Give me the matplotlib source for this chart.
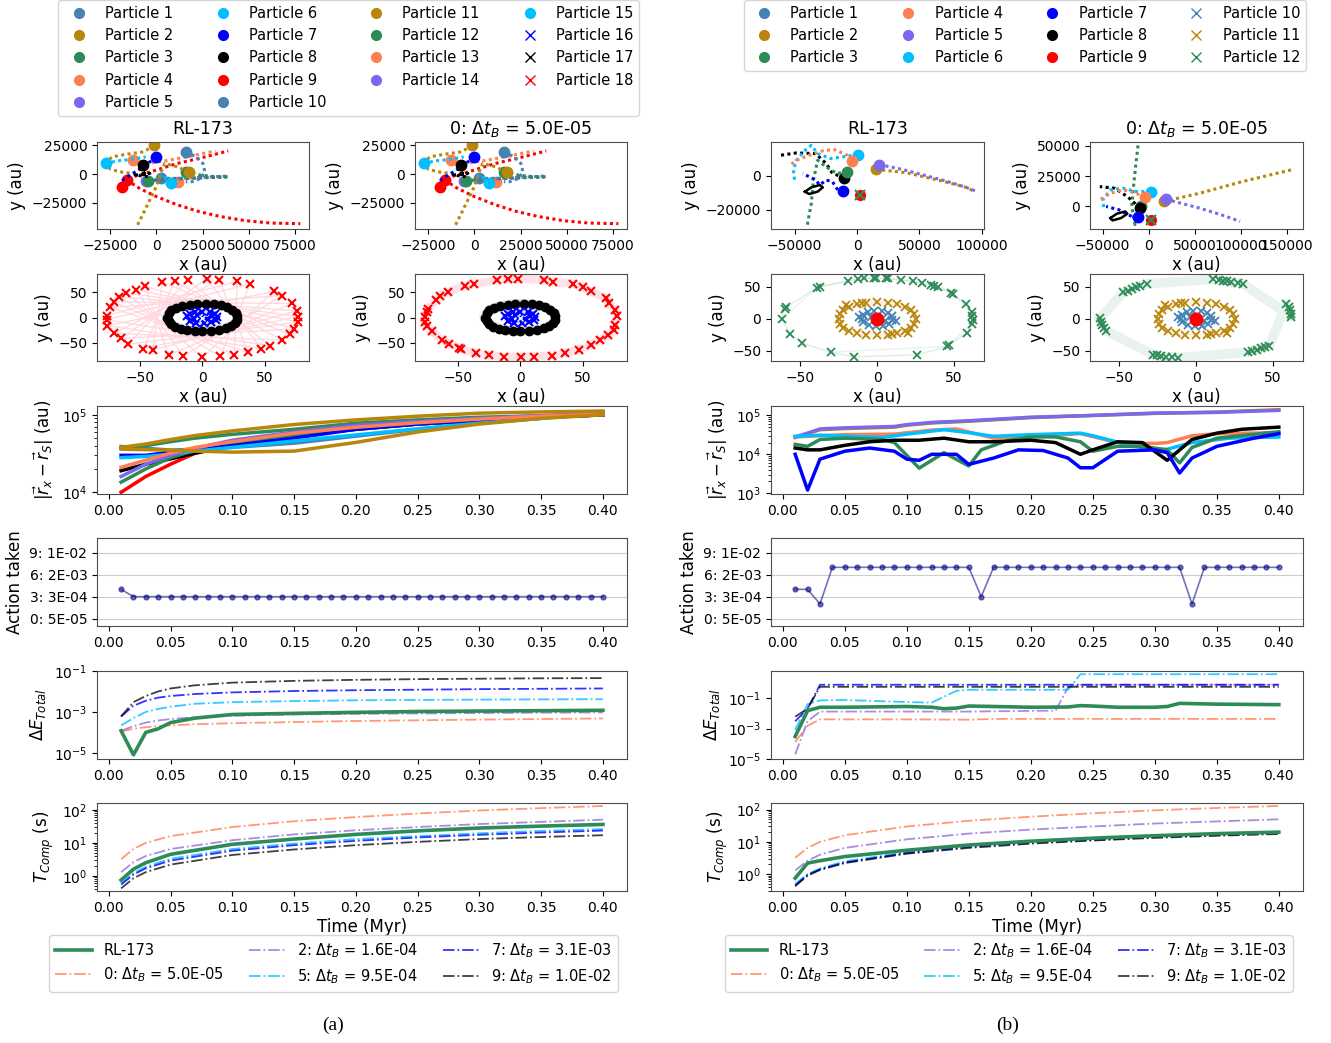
import matplotlib.pyplot as plt
from matplotlib.lines import Line2D
from matplotlib.ticker import NullFormatter

W, H = 1331, 1043

# ---------------- particle colours (legend) ----------------
colors_a = {1: 'steelblue', 2: 'darkgoldenrod', 3: 'seagreen', 4: 'coral', 5: 'mediumslateblue',
            6: 'deepskyblue', 7: 'blue', 8: 'black', 9: 'red', 10: 'steelblue',
            11: 'darkgoldenrod', 12: 'seagreen', 13: 'coral', 14: 'mediumslateblue',
            15: 'deepskyblue', 16: 'blue', 17: 'black', 18: 'red'}
markers_a = {k: ('x' if k >= 16 else 'o') for k in colors_a}
colors_b = {1: 'steelblue', 2: 'darkgoldenrod', 3: 'seagreen', 4: 'coral', 5: 'mediumslateblue',
            6: 'deepskyblue', 7: 'blue', 8: 'black', 9: 'red', 10: 'steelblue',
            11: 'darkgoldenrod', 12: 'seagreen'}
markers_b = {k: ('x' if k >= 10 else 'o') for k in colors_b}

# ---------------- (a) trajectories, wide view ----------------
traj_a = {
    18: ([-16000, -9150, 0, 11400, 22900, 34300, 48000, 61700, 77800],
         [-5200, -12400, -19650, -26900, -32700, -37000, -40700, -42800, -43350]),
    9: ([-18750, -18300, -16000, -9150, 0, 11400, 22900, 38900],
        [-11560, -6650, -3750, -870, 3470, 9250, 13600, 20200]),
    13: ([-12600, -4600, 6900, 18300, 32000], [12100, 9250, 12100, 15600, 20200]),
    4: ([11900, 8000, 4000], [-6650, -5000, -3000]),
    1: ([16000, 21700, 25200, 26300, 24000, 19400, 16000],
        [19400, 15000, 9250, 2000, -3750, -6650, -6650]),
    10: ([2300, 11400, 22900, 38900], [-3750, -3750, -3200, -2300]),
    5: ([-5700, 6900, 20600, 38900], [-5800, -4600, -3200, -1700]),
    3: ([16000, 24000, 32000, 38000], [2000, -1000, -2300, -2600]),
    12: ([-4600, 11400, 27400, 37700], [-5800, -4300, -3200, -2600]),
    2: ([-1100, -6900, -16000, -24000, -27000, -24700, -17100, -9150],
        [25100, 19400, 17300, 15000, 9800, 4050, 1150, 600]),
    11: ([17600, 11400, 4600, 2300, 0, -3430, -6900, -10300],
         [1700, 6350, 9250, 600, -11000, -22500, -34100, -45100]),
    7: ([0, -3430, -6900, -12600, -17100, -19400], [15000, 10700, 6350, 600, -3750, -8100]),
    6: ([-27400, -20600, -13700, -5700], [9250, 11600, 12700, 15000]),
    15: ([8000, 5700, 2300], [-8100, -3750, -900]),
    8: ([-6900, -9150, -5700, -8000, -3430, -11400, -4600],
        [7800, 4900, 2000, -870, 600, -870, -2300]),
}

# ---------------- (a) trajectories, zoom on the centre ----------------
red_x_rl = [-76.4, -76.4, -75.8, -73.4, -70.7, -66.3, -60.6, -53.2, -45.5, -32.0, -21.9, -11.8, 3.4,
            13.5, 27.9, 38.0, 57.2, 63.3, 71.7, 75.1, 76.4, 76.4, 73.1, 69.7, 63.3, 53.9, 47.1, 36.4,
            25.3, 14.1, 0.0, -15.2, -26.9, -39.7, -47.1, -58.9, -65.0, -70.7]
red_y_rl = [3.9, -4.5, -16.1, 20.0, 31.0, 40.6, 48.4, 54.8, 61.3, 69.7, 71.6, 74.2, 76.1, 74.2, 71.6,
            66.5, 51.6, 43.2, 27.7, 12.9, 1.9, -9.0, -22.6, -33.5, -44.5, -56.1, -61.3, -69.0, -73.5,
            -76.8, -78.7, -76.1, -74.2, -64.5, -61.3, -52.9, -41.3, -31.6]
rl_order = [0, 14, 28, 4, 18, 32, 8, 22, 36, 12, 26, 2, 16, 30, 6, 20, 34, 10, 24, 37, 13, 27, 3,
            17, 31, 7, 21, 35, 11, 25, 1, 15, 29, 5, 19, 33, 9, 23]
red_x_dt = [-76.4, -76.4, -74.7, -73.4, -67.3, -64.0, -57.9, -43.8, -37.0, -18.5, -10.1, -1.7, 18.5,
            25.9, 42.1, 49.8, 56.2, 68.0, 70.7, 75.8, 76.8, 75.1, 74.7, 69.7, 63.3, 56.2, 46.5, 35.4,
            25.3, 10.8, 0.7, -12.8, -25.3, -35.4, -47.1, -48.8, -56.6, -62.3, -70.7, -74.1]
red_y_dt = [-9.0, 1.9, 11.6, 16.8, 34.2, 41.9, 50.3, 63.2, 66.5, 74.2, 76.1, 76.1, 74.2, 70.3, 66.5,
            60.0, 51.6, 38.7, 27.7, 14.8, 3.2, -14.2, -23.9, -34.8, -44.5, -54.8, -63.9, -70.3,
            -75.5, -77.4, -78.7, -78.7, -74.2, -71.0, -62.6, -60.0, -51.6, -44.5, -27.1, -17.4]
black_x = [-28, -27, -25, -21, -16, -10, -4, 3, 9, 15, 20, 24, 27, 28, 28, 26, 23, 19, 13, 7, 0,
           -6, -12, -17, -22, -25, -27]
black_y = [0, 8, 14, 19, 23, 25, 27, 27, 26, 24, 20, 15, 9, 2, -5, -11, -16, -21, -24, -26, -27,
           -27, -25, -22, -18, -12, -6]
blue_x = [-12, -10, -6, 0, 6, 10, 12, 11, 7, 1, -5, -10, -4, 4, 0, -7, 8]
blue_y = [2, 7, 10, 11, 10, 7, 1, -5, -9, -11, -10, -6, 4, -3, 0, -2, 3]

# ---------------- (b) trajectories, wide view ----------------
traj_b_rl = {
    8: ([-10200, -19700, -24800, -33300, -48600, -61500], [-1160, 1360, 7200, 13000, 13400, 12000]),
    6: ([680, -11200, -21400, -31600, -36700, -41800, -48600, -51000, -50000],
        [12400, 11100, 10100, 13000, 17800, 14900, 9100, 3300, -3500]),
    4: ([-4400, -7800, -18000, -26500, -38400, -48600, -53700],
        [8700, 12000, 15300, 14900, 12000, 9100, 6200]),
    3: ([-7800, -16300, -24800, -31600, -33300, -35000, -36700, -40100],
        [2300, 1360, 5200, 9100, 3300, -2500, -16100, -29700]),
    7: ([-11200, -14600, -19700, -24800, -29900, -33300, -38400, -43500],
        [-8700, -9300, -3500, -2500, -5400, -2500, -600, 1360]),
    2: ([15000, 26200, 39800, 53400, 70400, 87400, 94900], [3700, 2900, 1750, -600, -3500, -6800, -9500]),
    5: ([17700, 36400, 53400, 70400, 87400, 94900], [6600, 3700, 400, -2900, -6800, -8900]),
}
loop_b_rl = ([-41800, -36700, -29900, -27500, -31600, -38400, -41800],
             [-9300, -6800, -5400, -6800, -9300, -10700, -9300])
core_b_rl = (2000, -11000)

traj_b_dt = {
    3: ([-8300, -13800, -14800, -18400, -16100, -13800, -11500], [0, -8200, -15000, 0, 19100, 35500, 50500]),
    2: ([16100, 55300, 101400, 156700], [4100, 10900, 20500, 30600]),
    5: ([18400, 55300, 78400, 99100], [6000, -1400, -6800, -12300]),
    8: ([-9200, -23100, -36900, -53000], [-1400, 8200, 15000, 16400]),
    6: ([2300, -13800, -27700, -41500, -49800, -48400], [12300, 12300, 15000, 13700, 5500, -2700]),
    4: ([-3700, -13800, -27700, -41500, -53000], [7600, 10900, 13700, 10900, 5500]),
    7: ([-11500, -18400, -32300, -46100], [-8700, -8200, -2700, 0]),
}
loop_b_dt = ([-41500, -34600, -25400, -23100, -30000, -39200, -41500],
             [-9600, -6000, -4100, -6000, -9600, -11500, -9600])
core_b_dt = (2300, -10900)

# ---------------- (b) trajectories, zoom ----------------
green_x_rl = [-62.0, -60.0, -59.2, -39.1, -37.2, -18.7, -12.4, -8.3, -1.9, -0.6, 5.5, 6.9, 15.7, 23.4,
              28.9, 35.0, 37.2, 39.9, 48.2, 49.6, 57.9, 62.0, 62.0, 62.3, 61.4, 58.7, 46.8, 45.5, 26.2,
              -15.2, -30.3, -48.8, -56.5]
green_y_rl = [0.0, 15.4, 17.9, 48.7, 50.3, 59.5, 62.1, 63.1, 63.6, 64.1, 63.1, 63.1, 60.5, 59.0, 55.4,
              52.8, 51.3, 50.3, 40.0, 38.5, 23.1, 10.3, 4.1, -2.6, -8.7, -21.5, -41.0, -43.1, -56.4,
              -59.5, -52.3, -37.9, -24.1]
green_x_dt = [-62.5, -61.7, -61.2, -59.8, -58.4, -28.1, -25.3, -22.6, -19.3, -15.7, -12.1, 33.9, 36.6,
              39.4, 42.1, 44.9, 47.7, 58.7, 60.1, 60.9, 61.4, 62.0, 30.3, 27.0, 22.9, 20.1, 17.4, 14.6,
              11.3, -32.2, -36.4, -39.1, -41.9, -44.6, -47.4]
green_y_dt = [0.5, -4.6, -9.7, -14.9, -19.0, -55.9, -57.4, -58.5, -59.5, -60.0, -61.0, -52.3, -50.3,
              -48.2, -46.2, -44.1, -42.1, 23.6, 18.5, 13.3, 8.2, 3.1, 55.0, 56.0, 57.0, 58.5, 59.5, 61.0,
              62.0, 54.4, 51.3, 49.2, 46.7, 44.1, 41.5]
gold_x = [-25, -24, -22, -18, -13, -7, 0, 7, 13, 18, 22, 24, 25, 24, 22, 18, 13, 7, 0, -7, -13, -18,
          -22, -24, -20, 20, -10, 10]
gold_y = [0, 8, 14, 19, 23, 25, 26, 25, 23, 19, 14, 8, 0, -8, -14, -19, -23, -25, -26, -25, -23,
          -19, -14, -8, 22, -22, 24, -24]
sblue_x = [-10, -9, -6, -2, 3, 7, 10, 10, 8, 4, -1, -5, -9, -12, 12, -4, 5]
sblue_y = [0, 6, 10, 12, 12, 9, 4, -2, -8, -11, -12, -10, -5, 3, -4, 3, -3]

# ---------------- time series ----------------
t_act = [0.01, 0.02, 0.03, 0.04, 0.05, 0.06, 0.07, 0.08, 0.09, 0.10, 0.11, 0.12, 0.13, 0.14,
         0.15, 0.16, 0.17, 0.18, 0.19, 0.20, 0.21, 0.22, 0.23, 0.24, 0.25, 0.26, 0.27, 0.28,
         0.29, 0.30, 0.31, 0.32, 0.33, 0.34, 0.35, 0.36, 0.37, 0.38, 0.39, 0.40]
action_a = [4, 3, 3, 3, 3, 3, 3, 3, 3, 3, 3, 3, 3, 3, 3, 3, 3, 3, 3, 3,
            3, 3, 3, 3, 3, 3, 3, 3, 3, 3, 3, 3, 3, 3, 3, 3, 3, 3, 3, 3]
action_b = [4, 4, 2, 7, 7, 7, 7, 7, 7, 7, 7, 7, 7, 7, 7, 3, 7, 7, 7, 7,
            7, 7, 7, 7, 7, 7, 7, 7, 7, 7, 7, 7, 2, 7, 7, 7, 7, 7, 7, 7]
action_ticks = [0, 3, 6, 9]
action_labels = ['0: 5E-05', '3: 3E-04', '6: 2E-03', '9: 1E-02']

t_r = [0.01, 0.03, 0.05, 0.07, 0.10, 0.15, 0.20, 0.25, 0.30, 0.35, 0.40]
dist_a = {
    1: [3.9e4, 3.7e4, 3.5e4, 3.6e4, 3.8e4, 4.3e4, 5.3e4, 6.5e4, 7.8e4, 9.0e4, 1.1e5],
    9: [1.0e4, 1.6e4, 2.3e4, 3.2e4, 4.1e4, 5.5e4, 6.7e4, 7.7e4, 8.6e4, 9.3e4, 1.0e5],
    8: [1.9e4, 2.3e4, 2.7e4, 3.2e4, 4.0e4, 5.3e4, 6.5e4, 7.6e4, 8.4e4, 9.2e4, 1.0e5],
    12: [1.35e4, 2.0e4, 2.8e4, 3.5e4, 4.3e4, 5.4e4, 6.5e4, 7.6e4, 8.5e4, 9.3e4, 1.0e5],
    7: [3.0e4, 3.0e4, 3.3e4, 3.6e4, 4.0e4, 5.0e4, 6.5e4, 7.6e4, 8.5e4, 9.3e4, 1.0e5],
    6: [2.8e4, 2.9e4, 3.1e4, 3.4e4, 3.8e4, 4.6e4, 5.5e4, 6.6e4, 7.8e4, 9.0e4, 1.05e5],
    3: [3.7e4, 4.0e4, 4.5e4, 5.0e4, 5.6e4, 6.5e4, 7.8e4, 8.6e4, 9.3e4, 9.7e4, 1.0e5],
    5: [1.6e4, 2.3e4, 3.0e4, 3.7e4, 4.7e4, 6.0e4, 7.3e4, 8.2e4, 9.0e4, 9.8e4, 1.05e5],
    4: [2.1e4, 2.6e4, 3.2e4, 3.8e4, 4.5e4, 5.8e4, 6.9e4, 7.9e4, 8.8e4, 9.6e4, 1.02e5],
    2: [3.8e4, 4.2e4, 4.8e4, 5.4e4, 6.2e4, 7.5e4, 8.6e4, 9.6e4, 1.05e5, 1.09e5, 1.12e5],
    11: [3.6e4, 3.55e4, 3.5e4, 3.4e4, 3.3e4, 3.4e4, 4.4e4, 6.0e4, 7.6e4, 9.0e4, 1.0e5],
}
dist_b = {
    2: ([0.01, 0.02, 0.03, 0.05, 0.09, 0.10, 0.12, 0.15, 0.20, 0.25, 0.30, 0.35, 0.40],
        [2.7e4, 3.4e4, 4.3e4, 4.6e4, 5.0e4, 5.6e4, 6.4e4, 7.1e4, 8.8e4, 1.0e5, 1.13e5, 1.22e5, 1.4e5]),
    5: ([0.01, 0.02, 0.03, 0.05, 0.09, 0.10, 0.12, 0.15, 0.20, 0.25, 0.30, 0.35, 0.40],
        [2.8e4, 3.5e4, 4.5e4, 4.8e4, 5.2e4, 5.8e4, 6.6e4, 7.3e4, 9.0e4, 1.0e5, 1.15e5, 1.2e5, 1.35e5]),
    4: ([0.01, 0.05, 0.09, 0.12, 0.14, 0.17, 0.20, 0.24, 0.27, 0.30, 0.31, 0.33, 0.35, 0.40],
        [2.8e4, 3.2e4, 3.3e4, 4.2e4, 4.5e4, 2.6e4, 2.8e4, 3.4e4, 2.0e4, 1.9e4, 2.0e4, 3.0e4, 3.4e4, 3.6e4]),
    6: ([0.01, 0.03, 0.08, 0.10, 0.13, 0.15, 0.17, 0.20, 0.24, 0.25, 0.28, 0.30, 0.31, 0.33, 0.36, 0.40],
        [2.9e4, 3.1e4, 2.7e4, 3.3e4, 4.3e4, 3.6e4, 2.9e4, 3.2e4, 3.5e4, 3.0e4, 1.7e4, 1.3e4, 1.35e4,
         2.0e4, 2.6e4, 2.8e4]),
    3: ([0.01, 0.02, 0.03, 0.05, 0.08, 0.09, 0.11, 0.13, 0.15, 0.16, 0.18, 0.20, 0.22, 0.24, 0.25,
         0.27, 0.29, 0.31, 0.32, 0.33, 0.35, 0.40],
        [1.8e4, 1.6e4, 2.4e4, 2.6e4, 2.4e4, 2.0e4, 4.4e3, 1.1e4, 5.0e3, 1.3e4, 2.2e4, 2.8e4, 2.8e4,
         2.1e4, 1.2e4, 1.6e4, 1.6e4, 1.3e4, 6.0e3, 1.5e4, 2.6e4, 3.8e4]),
    8: ([0.01, 0.02, 0.03, 0.05, 0.07, 0.09, 0.11, 0.13, 0.15, 0.17, 0.20, 0.22, 0.24, 0.25, 0.27,
         0.29, 0.31, 0.33, 0.35, 0.37, 0.40],
        [1.45e4, 1.3e4, 1.3e4, 1.7e4, 2.1e4, 2.3e4, 2.3e4, 2.6e4, 2.1e4, 2.1e4, 2.3e4, 2.0e4, 1.0e4,
         1.3e4, 2.1e4, 2.0e4, 7.0e3, 2.4e4, 3.5e4, 4.4e4, 5.0e4]),
    7: ([0.01, 0.02, 0.03, 0.05, 0.07, 0.09, 0.10, 0.11, 0.12, 0.14, 0.15, 0.17, 0.19, 0.21, 0.23,
         0.24, 0.25, 0.27, 0.30, 0.31, 0.32, 0.33, 0.35, 0.38, 0.40],
        [1.0e4, 1.2e3, 7.5e3, 1.2e4, 1.45e4, 1.2e4, 7.5e3, 7.0e3, 1.0e4, 1.0e4, 5.5e3, 8.0e3, 1.3e4,
         1.25e4, 8.0e3, 4.5e3, 4.5e3, 1.2e4, 1.3e4, 1.1e4, 3.3e3, 8.0e3, 1.6e4, 2.6e4, 3.4e4]),
}

runs = ['0', '2', '5', '7', '9', 'RL']
run_labels = {'RL': 'RL-173', '0': r'0: $\Delta t_B$ = 5.0E-05', '2': r'2: $\Delta t_B$ = 1.6E-04',
              '5': r'5: $\Delta t_B$ = 9.5E-04', '7': r'7: $\Delta t_B$ = 3.1E-03',
              '9': r'9: $\Delta t_B$ = 1.0E-02'}

t_e = [0.01, 0.02, 0.03, 0.04, 0.05, 0.07, 0.10, 0.15, 0.20, 0.25, 0.30, 0.35, 0.40]
energy_a = {
    'RL': (t_e, [1.2e-4, 8e-6, 1.0e-4, 1.5e-4, 3.0e-4, 5.0e-4, 7.5e-4, 8.5e-4, 9.5e-4, 1.05e-3, 1.1e-3, 1.15e-3, 1.2e-3]),
    '0': (t_e, [1.1e-4, 1.5e-4, 1.8e-4, 2.0e-4, 2.2e-4, 2.5e-4, 2.8e-4, 3.2e-4, 3.6e-4, 3.9e-4, 4.2e-4, 4.5e-4, 4.8e-4]),
    '2': (t_e, [1.2e-4, 2.0e-4, 3.0e-4, 3.8e-4, 4.5e-4, 5.5e-4, 6.5e-4, 7.5e-4, 8.0e-4, 8.4e-4, 8.8e-4, 9.2e-4, 9.5e-4]),
    '5': (t_e, [2.2e-4, 5.0e-4, 1.0e-3, 1.4e-3, 1.8e-3, 2.5e-3, 3.0e-3, 3.4e-3, 3.7e-3, 3.85e-3, 4.0e-3, 4.1e-3, 4.2e-3]),
    '7': (t_e, [6e-4, 2e-3, 3.5e-3, 5e-3, 6e-3, 7.5e-3, 9e-3, 1.05e-2, 1.15e-2, 1.22e-2, 1.3e-2, 1.35e-2, 1.4e-2]),
    '9': (t_e, [6e-4, 3e-3, 6e-3, 1e-2, 1.4e-2, 2e-2, 2.7e-2, 3.3e-2, 3.7e-2, 4.0e-2, 4.2e-2, 4.4e-2, 4.5e-2]),
}
energy_b = {
    'RL': ([0.01, 0.02, 0.03, 0.05, 0.10, 0.12, 0.13, 0.14, 0.15, 0.17, 0.20, 0.23, 0.24, 0.25, 0.27,
            0.30, 0.31, 0.32, 0.35, 0.40],
           [3e-4, 1.5e-2, 2.5e-2, 2.5e-2, 2.8e-2, 2.5e-2, 2.0e-2, 2.2e-2, 3.0e-2, 2.8e-2, 2.5e-2, 2.6e-2,
            3.2e-2, 3.0e-2, 2.5e-2, 2.5e-2, 2.8e-2, 4.5e-2, 4.0e-2, 3.7e-2]),
    '0': ([0.01, 0.02, 0.03, 0.05, 0.10, 0.15, 0.17, 0.40],
          [1.3e-4, 1.5e-3, 4e-3, 4e-3, 4e-3, 3.8e-3, 4.3e-3, 4.3e-3]),
    '2': ([0.01, 0.02, 0.03, 0.10, 0.15, 0.22, 0.23, 0.24, 0.40],
          [2e-5, 3e-3, 1.3e-2, 1.3e-2, 1.3e-2, 1.5e-2, 0.5, 0.75, 0.75]),
    '5': ([0.01, 0.02, 0.03, 0.05, 0.10, 0.12, 0.14, 0.15, 0.23, 0.24, 0.40],
          [8e-4, 4e-2, 7e-2, 7.5e-2, 5.5e-2, 5e-2, 0.3, 0.35, 0.35, 3.7, 3.7]),
    '7': ([0.01, 0.02, 0.03, 0.40], [3e-3, 2e-2, 0.75, 0.75]),
    '9': ([0.01, 0.02, 0.03, 0.40], [6e-3, 2e-2, 0.55, 0.55]),
}

t_c = [0.01, 0.02, 0.03, 0.05, 0.10, 0.15, 0.20, 0.25, 0.30, 0.35, 0.40]
comp_a = {
    '0': [3.2, 6.5, 10, 16, 30, 45, 60, 77, 95, 112, 130],
    '2': [1.3, 2.6, 4, 6.5, 12, 18, 24, 30, 37, 43, 50],
    '5': [0.6, 1.2, 1.9, 3.3, 6.5, 9.5, 13, 16, 19.5, 23, 26],
    '7': [0.55, 1.1, 1.7, 2.9, 5.8, 8.5, 11.5, 14.5, 17.5, 20.5, 23.5],
    '9': [0.42, 0.85, 1.3, 2.2, 4.3, 6.3, 8.5, 10.7, 13, 15, 17],
    'RL': [0.75, 1.6, 2.5, 4.5, 9, 13, 18, 23, 28, 32, 36],
}
comp_b = {
    '0': [3.2, 6.5, 10, 16, 30, 45, 60, 77, 95, 112, 130],
    '2': [1.3, 2.6, 4, 6.5, 12, 18, 24, 30, 37, 43, 50],
    '5': [0.5, 1.0, 1.5, 2.5, 4.8, 7.5, 10, 12.5, 15, 17.5, 20],
    '7': [0.45, 0.95, 1.4, 2.3, 4.5, 7, 9.3, 11.5, 14, 16, 18.5],
    '9': [0.42, 0.9, 1.35, 2.2, 4.3, 6.5, 8.8, 11, 13.3, 15.5, 17.5],
    'RL': [0.75, 2.2, 2.6, 3.5, 5.5, 8, 10.5, 13, 15.5, 18, 20],
}

run_style = {
    'RL': dict(color='seagreen', lw=2.6, ls='-'),
    '0': dict(color='coral', lw=1.3, ls='-.', alpha=0.8),
    '2': dict(color='mediumpurple', lw=1.3, ls='-.', alpha=0.8),
    '5': dict(color='deepskyblue', lw=1.3, ls='-.', alpha=0.8),
    '7': dict(color='blue', lw=1.3, ls='-.', alpha=0.8),
    '9': dict(color='black', lw=1.3, ls='-.', alpha=0.75),
}

# ---------------- figure ----------------
plt.rcParams['font.family'] = ['DejaVu Sans']
plt.rcParams['axes.edgecolor'] = '0.3'
plt.rcParams['xtick.labelsize'] = 10
plt.rcParams['ytick.labelsize'] = 10
plt.rcParams['axes.labelsize'] = 12

fig = plt.figure(figsize=(W / 100, H / 100), dpi=100)


def rect(x0, y0, w, h=88):
    return [x0 / W, 1 - (y0 + h) / H, w / W, h / H]


rows = [142, 274, 406, 538, 671, 803]
dots = (0, (1, 1.1))


def draw_traj(ax, trajs, colors):
    for k, (xs, ys) in trajs.items():
        ax.plot(xs, ys, color=colors[k], ls=dots, lw=2.2)
        ax.plot(xs[0], ys[0], 'o', color=colors[k], ms=7.5)
    ax.set_xlabel('x (au)', labelpad=2)
    ax.set_ylabel('y (au)')


def log_clean(ax, ticks, lim):
    ax.set_yscale('log')
    ax.set_ylim(*lim)
    ax.set_yticks(ticks)
    ax.yaxis.set_minor_formatter(NullFormatter())


# ===== panel (a) =====
for i, x0 in enumerate([97, 415]):
    ax = fig.add_axes(rect(x0, rows[0], 212, 87))
    draw_traj(ax, traj_a, colors_a)
    ax.set_xlim(-32000, 82500)
    ax.set_ylim(-48000, 28000)
    ax.set_xticks([-25000, 0, 25000, 50000, 75000])
    ax.set_yticks([-25000, 0, 25000])
    ax.set_title('RL-173' if i == 0 else run_labels['0'], fontsize=12.5)

    ax = fig.add_axes(rect(x0, rows[1], 212, 87))
    ax.plot(black_x + black_x[:1], black_y + black_y[:1], color='0.6', lw=7, alpha=0.3)
    ax.plot(blue_x[:12] + blue_x[:1], blue_y[:12] + blue_y[:1], color='lightsteelblue', lw=4, alpha=0.5)
    if i == 0:
        ax.plot([red_x_rl[j] for j in rl_order], [red_y_rl[j] for j in rl_order],
                color='pink', lw=1, alpha=0.6)
        rx, ry = red_x_rl, red_y_rl
    else:
        ax.plot(red_x_dt + red_x_dt[:1], red_y_dt + red_y_dt[:1], color='pink', lw=6, alpha=0.45)
        rx, ry = red_x_dt, red_y_dt
    ax.plot(rx, ry, 'x', color='red', ms=6, mew=1.5)
    ax.plot(black_x, black_y, 'o', color='black', ms=6)
    ax.plot(blue_x, blue_y, 'x', color='blue', ms=6, mew=1.5)
    ax.plot([0], [0], 'x', color='lightcyan', ms=5)
    ax.set_xlim(-84, 85)
    ax.set_ylim(-86, 86)
    ax.set_xlabel('x (au)', labelpad=2)
    ax.set_ylabel('y (au)')

# ===== panel (b) =====
ax = fig.add_axes(rect(771, rows[0], 213, 87))
draw_traj(ax, traj_b_rl, colors_b)
ax.plot(*loop_b_rl, color='black', lw=1.8)
ax.plot(*core_b_rl, 'o', color='red', ms=7)
ax.plot(*core_b_rl, 'x', color='seagreen', ms=7, mew=1.5)
ax.set_xlim(-69000, 101700)
ax.set_ylim(-31200, 19800)
ax.set_xticks([-50000, 0, 50000, 100000])
ax.set_yticks([-20000, 0])
ax.set_title('RL-173', fontsize=12.5)

ax = fig.add_axes(rect(1090, rows[0], 213, 87))
draw_traj(ax, traj_b_dt, colors_b)
ax.plot(*loop_b_dt, color='black', lw=1.8)
ax.plot(*core_b_dt, 'o', color='red', ms=7)
ax.plot(*core_b_dt, 'x', color='seagreen', ms=7, mew=1.5)
ax.set_xlim(-63600, 167300)
ax.set_ylim(-18600, 53200)
ax.set_xticks([-50000, 0, 50000, 100000, 150000])
ax.set_yticks([0, 25000, 50000])
ax.set_title(run_labels['0'], fontsize=12.5)

for i, x0 in enumerate([771, 1090]):
    ax = fig.add_axes(rect(x0, rows[1], 213, 87))
    if i == 0:
        gx, gy = green_x_rl, green_y_rl
        ax.plot(gx + gx[:1], gy + gy[:1], color='seagreen', lw=1, alpha=0.15)
        ax.plot(gx[::3], gy[::3], color='seagreen', lw=1, alpha=0.1)
    else:
        gx, gy = green_x_dt, green_y_dt
        ax.plot(gx + gx[:1], gy + gy[:1], color='seagreen', lw=7, alpha=0.1)
    ax.plot(gold_x[:24] + gold_x[:1], gold_y[:24] + gold_y[:1], color='wheat', lw=3, alpha=0.4)
    ax.plot(gx, gy, 'x', color='seagreen', ms=6, mew=1.3)
    ax.plot(gold_x, gold_y, 'x', color='darkgoldenrod', ms=6, mew=1.3)
    ax.plot(sblue_x, sblue_y, 'x', color='steelblue', ms=6, mew=1.3)
    ax.plot([0], [0], 'o', color='red', ms=9)
    ax.set_xlim(-69, 69.5)
    ax.set_ylim(-66, 70)
    ax.set_xlabel('x (au)', labelpad=2)
    ax.set_ylabel('y (au)')

# ===== time series =====
panels = [
    (97, 530, dist_a, action_a, energy_a, comp_a, colors_a,
     dict(r=([1e4, 1e5], (9.5e3, 1.3e5)), e=([1e-5, 1e-3, 1e-1], (5e-6, 1e-1)), c=([1, 10, 100], (0.35, 160)))),
    (771, 532, dist_b, action_b, energy_b, comp_b, colors_b,
     dict(r=([1e3, 1e4, 1e5], (9.5e2, 1.75e5)), e=([1e-5, 1e-3, 1e-1], (1e-5, 6)), c=([1, 10, 100], (0.3, 160)))),
]

for x0, w, dist, action, energy, comp, colors, lims in panels:
    ax = fig.add_axes(rect(x0, rows[2], w))
    for k, v in dist.items():
        if isinstance(v, tuple):
            ax.plot(v[0], v[1], color=colors[k], lw=2.5)
        else:
            ax.plot(t_r, v, color=colors[k], lw=2.5)
    log_clean(ax, *lims['r'])
    ax.set_ylabel(r'$|\vec{r}_x - \vec{r}_S|$ (au)')

    ax = fig.add_axes(rect(x0, rows[3], w))
    ax.plot(t_act, action, color='navy', alpha=0.55, marker='o', ms=3.5, lw=1.2)
    ax.set_ylim(-1, 11)
    ax.set_yticks(action_ticks)
    ax.set_yticklabels(action_labels)
    ax.grid(axis='y', color='0.8')
    ax.set_ylabel('Action taken')

    ax = fig.add_axes(rect(x0, rows[4], w))
    for k in runs:
        ax.plot(energy[k][0], energy[k][1], **run_style[k])
    log_clean(ax, *lims['e'])
    ax.set_ylabel(r'$\Delta E_{Total}$')

    ax = fig.add_axes(rect(x0, rows[5], w))
    for k in runs:
        ax.plot(t_c, comp[k], **run_style[k])
    log_clean(ax, *lims['c'])
    ax.set_ylabel(r'$T_{Comp}$ (s)')
    ax.set_xlabel('Time (Myr)', labelpad=2)

# ===== legends =====
for colors, markers, cx in [(colors_a, markers_a, 0.262), (colors_b, markers_b, 0.770)]:
    handles = [Line2D([], [], ls='', marker=markers[k], color=colors[k], ms=7) for k in colors]
    labels = ['Particle %d' % k for k in colors]
    fig.legend(handles, labels, ncol=4, loc='upper center', bbox_to_anchor=(cx, 1.007),
               fontsize=10.5, handletextpad=0.8, columnspacing=2.4)

order = ['RL', '0', '2', '5', '7', '9']
for cx in [0.2506, 0.758]:
    handles = [Line2D([], [], **run_style[k]) for k in order]
    fig.legend(handles, [run_labels[k] for k in order], ncol=3, loc='upper center',
               bbox_to_anchor=(cx, 1 - 928 / H), fontsize=10.5, handlelength=2.5,
               columnspacing=1.7)

fig.text(333 / W, 1 - 1025 / H, '(a)', family='Liberation Serif', fontsize=14, ha='center', va='center')
fig.text(1008 / W, 1 - 1025 / H, '(b)', family='Liberation Serif', fontsize=14, ha='center', va='center')

fig.savefig('out.png', dpi=100)
